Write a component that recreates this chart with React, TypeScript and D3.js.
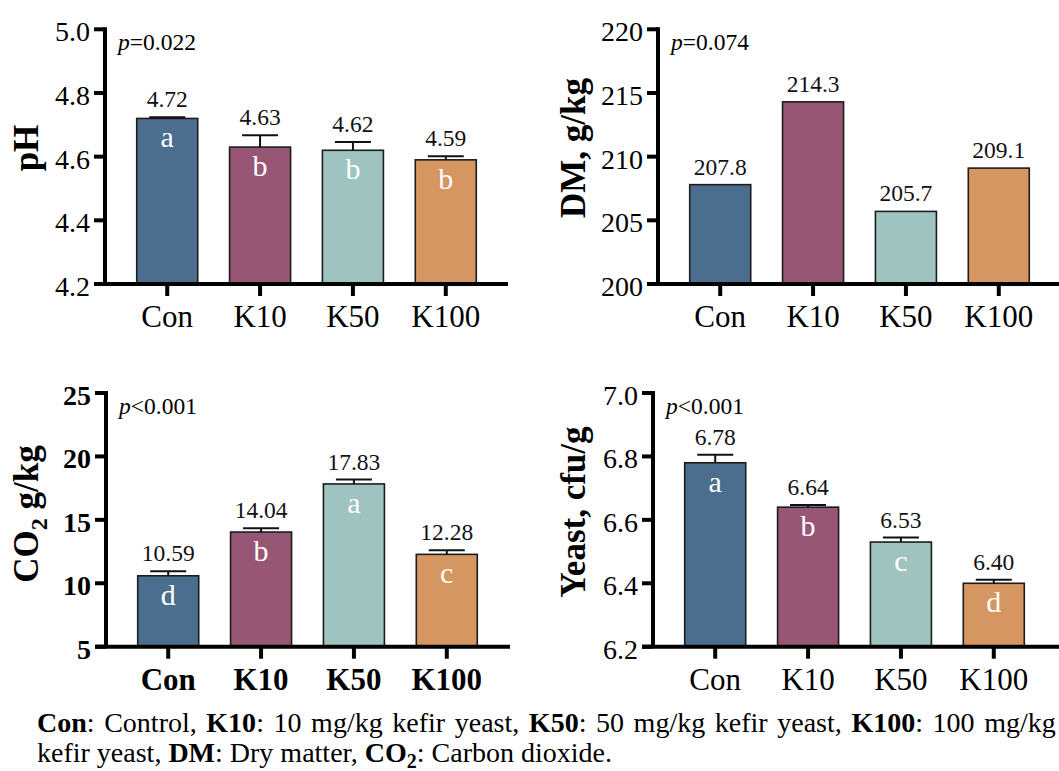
import React from "react";
import * as d3 from "d3";

const categories = ["Con", "K10", "K50", "K100"];
const barColors = ["#4b6e8f", "#975674", "#9fc4c0", "#d69661"];

const phValues = [4.72, 4.63, 4.62, 4.59];
const phErrors = [0.004, 0.037, 0.026, 0.011];
const phLetters = ["a", "b", "b", "b"];
const phTicks = [4.2, 4.4, 4.6, 4.8, 5.0];

const dmValues = [207.8, 214.3, 205.7, 209.1];
const dmTicks = [200, 205, 210, 215, 220];

const co2Values = [10.59, 14.04, 17.83, 12.28];
const co2Errors = [0.35, 0.3, 0.35, 0.33];
const co2Letters = ["d", "b", "a", "c"];
const co2Ticks = [5, 10, 15, 20, 25];

const yeastValues = [6.78, 6.64, 6.53, 6.4];
const yeastErrors = [0.025, 0.007, 0.014, 0.011];
const yeastLetters = ["a", "b", "c", "d"];
const yeastTicks = [6.2, 6.4, 6.6, 6.8, 7.0];

const FONT = "'Liberation Serif', 'Times New Roman', serif";

type PanelProps = {
  ax: number;
  top: number;
  bottom: number;
  ticks: number[];
  tickFmt: (v: number) => string;
  values: number[];
  errors?: number[];
  letters?: string[];
  valueFmt: (v: number) => string;
  pText: string;
  bold?: boolean;
  xEnd: number;
  titleX: number;
  titleY: number;
  title: React.ReactNode;
};

function Panel(props: PanelProps) {
  const { ax, top, bottom, ticks, tickFmt, values, errors, letters, valueFmt, pText, bold, xEnd, titleX, titleY, title } = props;
  const y = d3.scaleLinear().domain([ticks[0], ticks[ticks.length - 1]]).range([bottom, top]);
  const x = d3.scalePoint<string>().domain(categories).range([ax, ax + 403]).padding(0.67);
  const barW = 61;
  const capW = 36;
  const fw = bold ? "bold" : "normal";
  return (
    <g fontFamily={FONT}>
      {values.map((v, i) => {
        const cx = x(categories[i]) as number;
        const e = errors ? errors[i] : 0;
        return (
          <g key={i}>
            <rect x={cx - barW / 2} y={y(v)} width={barW} height={bottom - y(v)} fill={barColors[i]} stroke="#1c1c1c" strokeWidth={1.6} />
            {errors && (
              <g stroke="#111" strokeWidth={2}>
                <line x1={cx} x2={cx} y1={y(v)} y2={y(v + e)} />
                <line x1={cx - capW / 2} x2={cx + capW / 2} y1={y(v + e)} y2={y(v + e)} />
              </g>
            )}
            <text x={cx} y={y(v + e) - 10} textAnchor="middle" fontSize={23.5} fill="#111">{valueFmt(v)}</text>
            {letters && (
              <text x={cx} y={y(v) + 29} textAnchor="middle" fontSize={30} fill="#fff">{letters[i]}</text>
            )}
          </g>
        );
      })}
      {/* y axis */}
      <line x1={ax} x2={ax} y1={top - 2} y2={bottom} stroke="#000" strokeWidth={4} />
      {ticks.map((t, i) => (
        <g key={i}>
          <line x1={ax - 11} x2={ax} y1={y(t)} y2={y(t)} stroke="#000" strokeWidth={4} />
          <text x={ax - 15} y={y(t) + 12} textAnchor="end" fontSize={28} fontWeight={fw} fill="#000">{tickFmt(t)}</text>
        </g>
      ))}
      {/* x axis */}
      <line x1={ax - 11} x2={xEnd} y1={bottom} y2={bottom} stroke="#000" strokeWidth={4} />
      {categories.map((c, i) => (
        <g key={c}>
          <line x1={x(c)} x2={x(c)} y1={bottom} y2={bottom + 12} stroke="#000" strokeWidth={4} />
          <text x={x(c)} y={bottom + 43} textAnchor="middle" fontSize={31} fontWeight={fw} fill="#000">{c}</text>
        </g>
      ))}
      <text x={ax + 13} y={top + 21} fontSize={23.5} fill="#000">
        <tspan fontStyle="italic">p</tspan>
        {pText}
      </text>
      <text transform={`translate(${titleX},${titleY}) rotate(-90)`} textAnchor="middle" fontSize={35} fontWeight="bold" fill="#000">
        {title}
      </text>
    </g>
  );
}

export default function App() {
  return (
    <svg width={1059} height={771} style={{ position: "absolute", left: 0, top: 0, background: "#fff" }}>
      <rect x={0} y={0} width={1059} height={771} fill="#fff" />
      <Panel ax={105} top={29.3} bottom={284} ticks={phTicks} tickFmt={(v) => v.toFixed(1)} values={phValues} errors={phErrors} letters={phLetters} valueFmt={(v) => v.toFixed(2)} pText="=0.022" xEnd={508} titleX={38} titleY={148} title="pH" />
      <Panel ax={658} top={29.3} bottom={284} ticks={dmTicks} tickFmt={(v) => String(v)} values={dmValues} valueFmt={(v) => v.toFixed(1)} pText="=0.074" xEnd={1070} titleX={585} titleY={148} title="DM, g/kg" />
      <Panel ax={106} top={393} bottom={646.7} ticks={co2Ticks} tickFmt={(v) => String(v)} values={co2Values} errors={co2Errors} letters={co2Letters} valueFmt={(v) => v.toFixed(2)} pText="<0.001" bold xEnd={510} titleX={38} titleY={514} title={<><tspan>CO</tspan><tspan dy={9} fontSize={24}>2</tspan><tspan dy={-9}> g/kg</tspan></>} />
      <Panel ax={653} top={393} bottom={646.7} ticks={yeastTicks} tickFmt={(v) => v.toFixed(1)} values={yeastValues} errors={yeastErrors} letters={yeastLetters} valueFmt={(v) => v.toFixed(2)} pText="<0.001" xEnd={1070} titleX={585} titleY={512} title="Yeast, cfu/g" />
      <g fontFamily={FONT} fontSize={28} fill="#000">
        <text x={37} y={732} wordSpacing={2.6}>
          <tspan fontWeight="bold">Con</tspan>: Control, <tspan fontWeight="bold">K10</tspan>: 10 mg/kg kefir yeast, <tspan fontWeight="bold">K50</tspan>: 50 mg/kg kefir yeast, <tspan fontWeight="bold">K100</tspan>: 100 mg/kg
        </text>
        <text x={37} y={762}>
          kefir yeast, <tspan fontWeight="bold">DM</tspan>: Dry matter, <tspan fontWeight="bold">CO</tspan><tspan fontWeight="bold" dy={6} fontSize={20}>2</tspan><tspan dy={-6}>: Carbon dioxide.</tspan>
        </text>
      </g>
    </svg>
  );
}
